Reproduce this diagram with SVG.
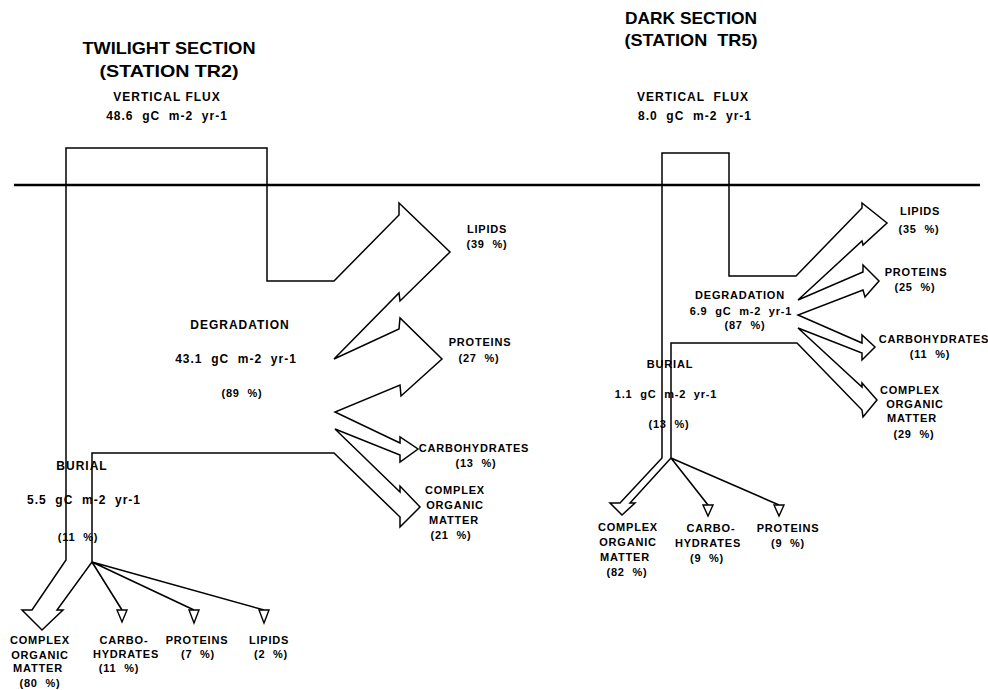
<svg xmlns="http://www.w3.org/2000/svg" width="988" height="690" viewBox="0 0 988 690">
<style>
text{font-family:"Liberation Sans",Arial,sans-serif;font-weight:bold;fill:#000;text-anchor:middle;white-space:pre}
.title{font-size:17px}
.big{font-size:12px;letter-spacing:1px}
.lbl{font-size:11px;letter-spacing:0.8px}
.flow{fill:none;stroke:#000;stroke-width:1.5;stroke-linejoin:miter}
.thin{fill:none;stroke:#000;stroke-width:1.6}
.tri{fill:#fff;stroke:#000;stroke-width:1.4}
.surface{stroke:#000;stroke-width:2.5}
</style>
<rect width="988" height="690" fill="#fff"/>
<g id="surface"><line class="surface" x1="14" y1="185" x2="980" y2="185"/></g>
<g id="connectors">
<path class="flow" d="M66,560 L66,148 L267,148 L267,281 L334,281 L399,215 L399,203 L450,252 L400,301 L399,293 L334,359 L399,329 L400,318 L442,359 L401,396 L400,385 L335,412 L400,443 L400,437 L418,449 L400,462 L400,455 L335,429 L400,492 L400,486 L420,507 L400,527 L400,517 L334,453 L92,453 L92,562 L57,610 L63,610 L42,630 L22,610 L32,610 Z"/>
<path class="thin" d="M92,562 L122,610 M92,562 L194,610 M92,562 L264,610"/>
<polygon class="tri" points="117,610 127,610 122,622"/>
<polygon class="tri" points="189,610 199,610 194,623"/>
<polygon class="tri" points="259,610 269,610 264,623"/>
<path class="flow" d="M662,458 L662,153 L729,153 L729,276 L796,276 L862,208 L862,203 L887,223 L863,245 L862,241 L798,300 L863,272 L863,265 L879,281 L865,297 L863,290 L798,315 L862,343 L862,335 L875,347 L862,360 L862,353 L798,328 L862,387 L862,383 L877,400 L863,417 L862,410 L797,343 L671,343 L671,458 L630,503 L635,503 L622,515 L610,503 L620,503 Z"/>
<path class="thin" d="M671,458 L708,505 M671,458 L779,505"/>
<polygon class="tri" points="703,505 713,505 708,516"/>
<polygon class="tri" points="774,505 784,505 779,516"/>
</g>
<g id="twilight-title"><text class="title" x="169" y="54" textLength="173" lengthAdjust="spacingAndGlyphs">TWILIGHT SECTION</text><text class="title" x="169" y="77" textLength="139" lengthAdjust="spacingAndGlyphs">(STATION TR2)</text></g>
<g id="dark-title"><text class="title" x="691" y="24" textLength="132" lengthAdjust="spacingAndGlyphs">DARK SECTION</text><text class="title" x="691" y="46" textLength="133" lengthAdjust="spacingAndGlyphs">(STATION  TR5)</text></g>
<g id="tw-flux"><text class="big" x="167" y="101">VERTICAL FLUX</text><text class="big" x="167" y="120">48.6  gC  m-2  yr-1</text></g>
<g id="dk-flux"><text class="big" x="693" y="101">VERTICAL  FLUX</text><text class="big" x="695" y="120">8.0  gC  m-2  yr-1</text></g>
<g id="tw-degradation"><text class="big" x="240" y="329">DEGRADATION</text><text class="big" x="236" y="363">43.1  gC  m-2  yr-1</text><text class="lbl" x="242" y="397">(89  %)</text></g>
<g id="tw-lipids"><text class="lbl" x="487" y="233">LIPIDS</text><text class="lbl" x="487" y="248">(39  %)</text></g>
<g id="tw-proteins"><text class="lbl" x="480" y="346">PROTEINS</text><text class="lbl" x="479" y="362">(27  %)</text></g>
<g id="tw-carbohydrates"><text class="lbl" x="474" y="452">CARBOHYDRATES</text><text class="lbl" x="476" y="467">(13  %)</text></g>
<g id="tw-com"><text class="lbl" x="455" y="494">COMPLEX</text><text class="lbl" x="455" y="509">ORGANIC</text><text class="lbl" x="454" y="524">MATTER</text><text class="lbl" x="451" y="539">(21  %)</text></g>
<g id="tw-burial"><text class="big" x="82" y="470">BURIAL</text><text class="big" x="84" y="504">5.5  gC  m-2  yr-1</text><text class="lbl" x="78" y="541">(11  %)</text></g>
<g id="tw-b-com"><text class="lbl" x="40" y="644">COMPLEX</text><text class="lbl" x="40" y="659">ORGANIC</text><text class="lbl" x="38" y="672">MATTER</text><text class="lbl" x="40" y="687">(80  %)</text></g>
<g id="tw-b-carbo"><text class="lbl" x="124" y="644">CARBO-</text><text class="lbl" x="126" y="658">HYDRATES</text><text class="lbl" x="119" y="672">(11  %)</text></g>
<g id="tw-b-proteins"><text class="lbl" x="197" y="644">PROTEINS</text><text class="lbl" x="198" y="658">(7  %)</text></g>
<g id="tw-b-lipids"><text class="lbl" x="269" y="644">LIPIDS</text><text class="lbl" x="271" y="658">(2  %)</text></g>
<g id="dk-lipids"><text class="lbl" x="920" y="215">LIPIDS</text><text class="lbl" x="919" y="233">(35  %)</text></g>
<g id="dk-proteins"><text class="lbl" x="916" y="276">PROTEINS</text><text class="lbl" x="915" y="291">(25  %)</text></g>
<g id="dk-degradation"><text class="lbl" x="740" y="299">DEGRADATION</text><text class="lbl" x="741" y="315">6.9  gC  m-2  yr-1</text><text class="lbl" x="745" y="329">(87  %)</text></g>
<g id="dk-carbohydrates"><text class="lbl" x="934" y="343">CARBOHYDRATES</text><text class="lbl" x="930" y="358">(11  %)</text></g>
<g id="dk-com"><text class="lbl" x="910" y="394">COMPLEX</text><text class="lbl" x="915" y="408">ORGANIC</text><text class="lbl" x="912" y="422">MATTER</text><text class="lbl" x="914" y="438">(29  %)</text></g>
<g id="dk-burial"><text class="lbl" x="670" y="368">BURIAL</text><text class="lbl" x="666" y="398">1.1  gC  m-2  yr-1</text><text class="lbl" x="669" y="428">(13  %)</text></g>
<g id="dk-b-com"><text class="lbl" x="628" y="531">COMPLEX</text><text class="lbl" x="628" y="546">ORGANIC</text><text class="lbl" x="625" y="561">MATTER</text><text class="lbl" x="627" y="576">(82  %)</text></g>
<g id="dk-b-carbo"><text class="lbl" x="711" y="532">CARBO-</text><text class="lbl" x="708" y="547">HYDRATES</text><text class="lbl" x="707" y="562">(9  %)</text></g>
<g id="dk-b-proteins"><text class="lbl" x="788" y="532">PROTEINS</text><text class="lbl" x="788" y="547">(9  %)</text></g>
</svg>
